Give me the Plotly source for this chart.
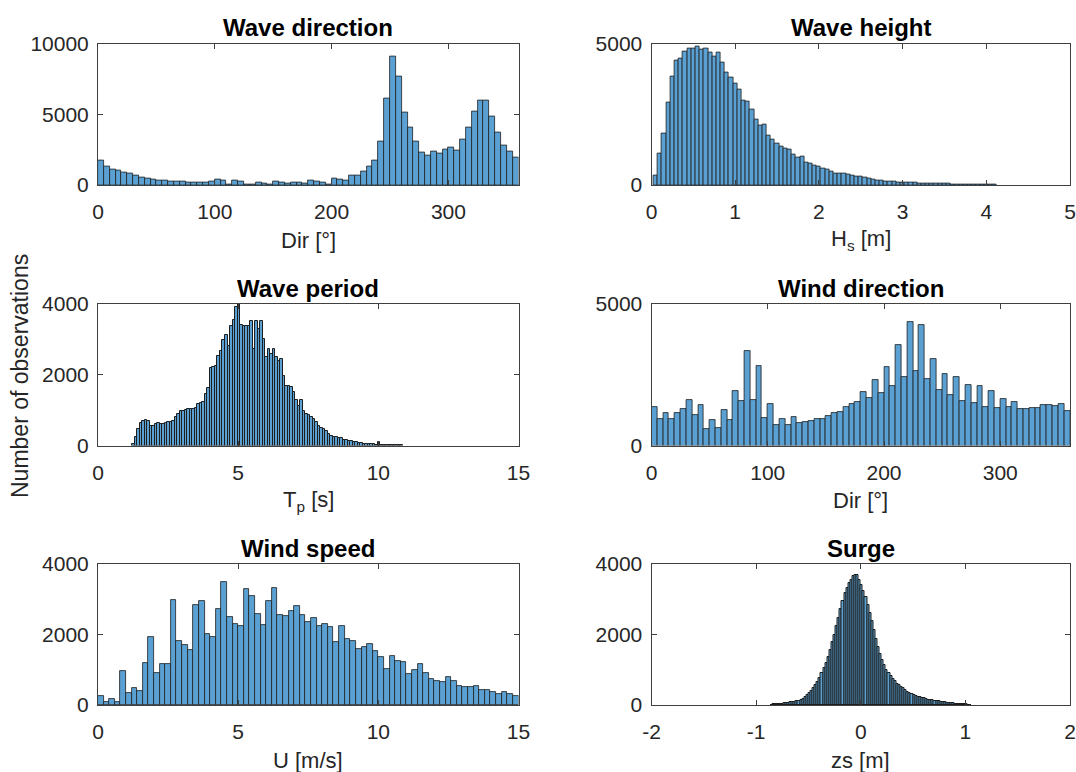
import plotly.graph_objects as go

# ---------------- data (bin start, bin width, counts) ----------------
wave_dir_start, wave_dir_width = 0.0, 5.0
wave_dir_counts = [1700, 1340, 1100, 990, 900, 780, 660, 560, 430, 380,
                   340, 350, 260, 240, 240, 210, 210, 190, 210, 240,
                   400, 330, 70, 310, 240, 20, 15, 190, 140, 70,
                   240, 190, 90, 210, 190, 120, 330, 260, 150, 70,
                   447, 376, 353, 659, 682, 965, 1294, 1718, 3059, 6094,
                   9059, 7647, 5106, 4094, 3059, 2306, 2118, 2400, 2259, 2518,
                   2682, 2447, 3200, 4094, 5200, 5953, 5953, 4824, 3718, 2800,
                   2400, 1976]

wave_h_start, wave_h_width = 0.025, 0.05
wave_h_counts = [319, 1123, 1832, 2920, 3818, 4397, 4468, 4728, 4823, 4823,
                 4882, 4787, 4811, 4669, 4551, 4669, 4314, 3983, 3806, 3582,
                 3369, 2991, 2955, 2660, 2329, 2104, 2128, 1738, 1596, 1478,
                 1359, 1277, 1241, 1064, 981, 1005, 792, 745, 686, 650,
                 591, 556, 473, 414, 390, 390, 355, 331, 296, 296,
                 260, 213, 177, 154, 142, 130, 118, 110, 100, 95,
                 90, 85, 78, 70, 65, 60, 55, 50, 45, 42,
                 38, 35, 32, 28, 25, 22, 20, 18, 15, 12, 10, 8]

wave_tp_start, wave_tp_width = 1.226, 0.0893
wave_tp_counts = [47, 235, 471, 631, 706, 734, 706, 565, 546, 612,
                  631, 612, 612, 640, 659, 678, 706, 800, 894, 969,
                  988, 1016, 1035, 1035, 1035, 1054, 1176, 1205, 1224, 1459,
                  1619, 2184, 2212, 2259, 2541, 2682, 2993, 3125, 2824, 3388,
                  3548, 3906, 3990, 3407, 3388, 3369, 3388, 3529, 2729, 3529,
                  3294, 3529, 3012, 2494, 2729, 2588, 2729, 2494, 2400, 2447,
                  1976, 1694, 1694, 1647, 1506, 1299, 1129, 1299, 988, 894,
                  866, 819, 753, 678, 565, 489, 471, 424, 329, 282,
                  254, 235, 216, 207, 160, 160, 141, 122, 94, 85,
                  75, 66, 56, 56, 47, 38, 38, 28, 94, 19,
                  19, 19, 9, 9, 9, 9, 9, 9]

wind_dir_start, wind_dir_width = 0.0, 5.0
wind_dir_counts = [1359, 922, 1158, 946, 1135, 1277, 1596, 1087, 1418, 591,
                   887, 626, 1241, 910, 1927, 1560, 3345, 1596, 2813, 969,
                   1478, 709, 946, 709, 993, 792, 827, 863, 922, 946,
                   1028, 1147, 1182, 1347, 1478, 1537, 1891, 1678, 2305, 1868,
                   2766, 2092, 3546, 2411, 4373, 2624, 4255, 2340, 3073, 1974,
                   2541, 1797, 2423, 1560, 2128, 1501, 2104, 1359, 1915, 1324,
                   1655, 1359, 1537, 1300, 1300, 1312, 1336, 1418, 1418, 1395,
                   1466, 1229]

wind_u_start, wind_u_width = 0.0, 0.2
wind_u_counts = [254, 94, 169, 94, 960, 348, 471, 395, 1195, 1920,
                 922, 1176, 1176, 2993, 1807, 1694, 1553, 2851, 2964, 2014,
                 1939, 2710, 3501, 2494, 2306, 2240, 3284, 3106, 2579, 2259,
                 2955, 3322, 2541, 2522, 2654, 2795, 2541, 2353, 2475, 2240,
                 2306, 2202, 1779, 2240, 1873, 1826, 1581, 1637, 1732, 1534,
                 1365, 1035, 1393, 1242, 1224, 885, 979, 1176, 894, 734,
                 687, 659, 790, 678, 536, 518, 499, 536, 424, 424,
                 358, 301, 358, 301, 264]

surge_start, surge_width = -0.86, 0.02
surge_counts = [10, 15, 20, 28, 35, 40, 48, 55, 65, 75,
                85, 95, 110, 125, 150, 180, 220, 270, 330, 400,
                470, 560, 650, 760, 900, 1050, 1200, 1370, 1560, 1780,
                2000, 2240, 2480, 2720, 2960, 3180, 3330, 3450, 3560, 3650,
                3700, 3680, 3560, 3400, 3230, 3050, 2830, 2600, 2380, 2120,
                1870, 1650, 1450, 1280, 1130, 1000, 900, 820, 750, 680,
                610, 560, 510, 470, 420, 380, 345, 315, 290, 265,
                240, 220, 200, 185, 170, 155, 140, 130, 120, 110,
                100, 90, 82, 75, 68, 60, 55, 48, 42, 36,
                30, 25, 20, 15, 10, 6]

titles = ["Wave direction", "Wave height", "Wave period",
          "Wind direction", "Wind speed", "Surge"]
xlabels = ["Dir [°]", "H<sub>s</sub> [m]", "T<sub>p</sub> [s]",
           "Dir [°]", "U [m/s]", "zs [m]"]
xranges = [[0, 360], [0, 5], [0, 15], [0, 360], [0, 15], [-2, 2]]
xticks = [[0, 100, 200, 300], [0, 1, 2, 3, 4, 5], [0, 5, 10, 15],
          [0, 100, 200, 300], [0, 5, 10, 15], [-2, -1, 0, 1, 2]]
yranges = [[0, 10000], [0, 5000], [0, 4000], [0, 5000], [0, 4000], [0, 4000]]
yticks = [[0, 5000, 10000], [0, 5000], [0, 2000, 4000], [0, 5000],
          [0, 2000, 4000], [0, 2000, 4000]]
ylabel = "Number of observations"

series = [(wave_dir_start, wave_dir_width, wave_dir_counts),
          (wave_h_start, wave_h_width, wave_h_counts),
          (wave_tp_start, wave_tp_width, wave_tp_counts),
          (wind_dir_start, wind_dir_width, wind_dir_counts),
          (wind_u_start, wind_u_width, wind_u_counts),
          (surge_start, surge_width, surge_counts)]

# ---------------- layout geometry ----------------
W, H = 1076, 772
col_px = [(98, 518.5), (651.5, 1070)]
row_px = [(43.5, 185), (304, 445.5), (564, 705)]

FONT = "Liberation Sans, Arial, Helvetica, sans-serif"
AX = "rgb(64,64,64)"
TXT = "rgb(38,38,38)"
FILL = "rgb(90,160,210)"
EDGE = "rgb(30,30,30)"

fig = go.Figure()
annotations = []
layout = dict(width=W, height=H, margin=dict(l=0, r=0, t=0, b=0, autoexpand=False),
              paper_bgcolor="white", plot_bgcolor="white", template="none",
              showlegend=False, bargap=0, font=dict(family=FONT, color=TXT))

for i in range(6):
    r, c = divmod(i, 2)
    x0, x1 = col_px[c]
    ytop, ybot = row_px[r]
    start, width, counts = series[i]
    centers = [start + (k + 0.5) * width for k in range(len(counts))]
    xa = "x" if i == 0 else f"x{i+1}"
    ya = "y" if i == 0 else f"y{i+1}"
    lw = 1.0 if width / (xranges[i][1] - xranges[i][0]) < 0.01 else 0.8
    fig.add_trace(go.Bar(x=centers, y=counts, width=width,
                         marker=dict(color=FILL, line=dict(color=EDGE, width=lw)),
                         xaxis=xa, yaxis=ya, hoverinfo="skip"))
    common = dict(showline=True, linecolor=AX, linewidth=1, mirror="ticks",
                  ticks="inside", ticklen=5, tickcolor=AX, tickwidth=1,
                  showgrid=False, zeroline=False, automargin=False,
                  tickfont=dict(family=FONT, size=21, color=TXT))
    layout["xaxis" if i == 0 else f"xaxis{i+1}"] = dict(
        common, domain=[x0 / W, x1 / W], range=xranges[i], tickvals=xticks[i],
        ticktext=[str(v) for v in xticks[i]],
        anchor=ya, ticklabelstandoff=8)
    layout["yaxis" if i == 0 else f"yaxis{i+1}"] = dict(
        common, domain=[1 - ybot / H, 1 - ytop / H], range=yranges[i],
        tickvals=yticks[i], ticktext=[str(v) for v in yticks[i]],
        anchor=xa, ticklabelstandoff=4)
    xc = (x0 + x1) / 2
    annotations.append(dict(text=f"<b>{titles[i]}</b>", x=xc / W, y=1 - (ytop - 16) / H,
                            xref="paper", yref="paper", showarrow=False,
                            xanchor="center", yanchor="middle",
                            font=dict(family=FONT, size=24, color="black")))
    annotations.append(dict(text=xlabels[i], x=xc / W, y=1 - (ybot + 55) / H,
                            xref="paper", yref="paper", showarrow=False,
                            xanchor="center", yanchor="middle",
                            font=dict(family=FONT, size=22, color=TXT)))

annotations.append(dict(text=ylabel, x=20 / W, y=1 - 376 / H, xref="paper", yref="paper",
                        showarrow=False, textangle=-90, xanchor="center", yanchor="middle",
                        font=dict(family=FONT, size=23, color=TXT)))
layout["annotations"] = annotations
fig.update_layout(**layout)
fig.write_html("out.html")
